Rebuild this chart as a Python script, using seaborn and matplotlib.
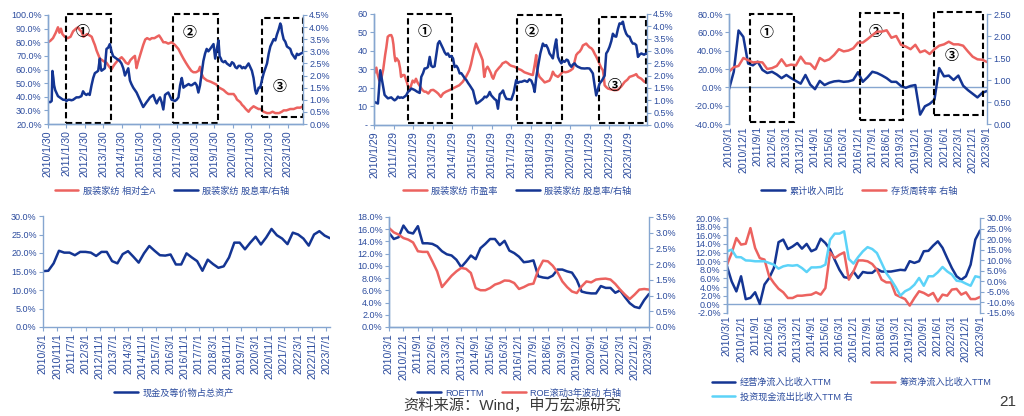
import matplotlib
matplotlib.use("Agg")
import matplotlib.pyplot as plt
import seaborn as sns
import pandas as pd
from matplotlib.patches import Rectangle

# ------------------------------------------------------------------ data
# Panel 1: 服装家纺 相对全A (left, %) and 股息率 (right, %), x = decimal year
p1_rel_pts = [
    (2010.08, 80), (2010.2, 81), (2010.35, 83), (2010.5, 87), (2010.62, 91), (2010.7, 87), (2010.78, 90),
    (2010.86, 86), (2010.99, 84), (2011.15, 83), (2011.3, 84), (2011.44, 88), (2011.6, 90), (2011.71, 91),
    (2011.8, 89), (2011.89, 88), (2012.0, 84), (2012.1, 85), (2012.2, 86), (2012.34, 85), (2012.45, 84),
    (2012.53, 81), (2012.62, 78), (2012.71, 74), (2012.8, 71), (2012.89, 68), (2013.0, 67), (2013.1, 66),
    (2013.25, 65), (2013.4, 62), (2013.52, 60), (2013.6, 62), (2013.7, 64), (2013.88, 67), (2014.07, 69),
    (2014.2, 67), (2014.3, 65), (2014.43, 64), (2014.55, 67), (2014.7, 69), (2014.79, 70), (2014.88, 61),
    (2014.95, 65), (2015.06, 70), (2015.15, 74), (2015.24, 78), (2015.35, 82), (2015.45, 83), (2015.6, 82),
    (2015.7, 83), (2015.85, 83), (2015.97, 84), (2016.1, 85), (2016.2, 83), (2016.33, 80), (2016.45, 80),
    (2016.6, 79), (2016.78, 80), (2016.96, 78), (2017.15, 75), (2017.3, 71), (2017.42, 68), (2017.55, 65),
    (2017.69, 62), (2017.85, 59), (2017.96, 58), (2018.1, 58), (2018.23, 59), (2018.32, 62), (2018.4, 57),
    (2018.5, 54), (2018.69, 52), (2018.9, 51), (2019.05, 50), (2019.2, 49), (2019.32, 47), (2019.45, 46),
    (2019.59, 45), (2019.75, 43), (2019.86, 42), (2020.0, 42), (2020.14, 42), (2020.25, 40), (2020.32, 38),
    (2020.5, 36), (2020.6, 34), (2020.68, 33), (2020.8, 31), (2020.95, 29), (2021.05, 31), (2021.22, 33),
    (2021.35, 32), (2021.49, 31), (2021.6, 31), (2021.76, 29), (2021.95, 28), (2022.1, 28), (2022.25, 29),
    (2022.4, 28), (2022.6, 28), (2022.75, 29), (2022.85, 30), (2023.0, 30), (2023.21, 31), (2023.4, 31),
    (2023.58, 32), (2023.75, 32), (2023.9, 33),
]
p1_yield_pts = [
    (2010.08, 0.92), (2010.2, 0.9), (2010.28, 0.95), (2010.32, 2.19), (2010.37, 1.9), (2010.41, 1.6),
    (2010.47, 1.4), (2010.53, 1.3), (2010.62, 1.15), (2010.71, 1.1), (2010.8, 1.05), (2010.9, 1.0),
    (2011.0, 1.0), (2011.08, 0.95), (2011.17, 1.0), (2011.26, 1.0), (2011.35, 0.98), (2011.44, 1.0),
    (2011.53, 1.05), (2011.62, 1.1), (2011.75, 1.1), (2011.89, 1.15), (2011.98, 1.35), (2012.07, 1.25),
    (2012.16, 1.2), (2012.25, 1.25), (2012.34, 1.2), (2012.44, 1.6), (2012.53, 1.9), (2012.62, 2.1),
    (2012.72, 2.15), (2012.8, 2.2), (2012.89, 2.7), (2012.94, 2.3), (2012.98, 2.2), (2013.07, 2.25),
    (2013.16, 2.3), (2013.25, 3.1), (2013.34, 3.15), (2013.43, 3.3), (2013.52, 3.0), (2013.61, 2.8),
    (2013.7, 2.75), (2013.79, 2.7), (2013.88, 2.65), (2013.97, 2.6), (2014.06, 2.5), (2014.16, 2.3),
    (2014.25, 2.0), (2014.34, 2.15), (2014.43, 2.3), (2014.52, 1.8), (2014.6, 1.65), (2014.7, 1.5),
    (2014.79, 1.4), (2014.88, 1.3), (2014.97, 1.15), (2015.06, 1.0), (2015.15, 0.85), (2015.24, 0.7),
    (2015.33, 0.8), (2015.42, 0.9), (2015.52, 1.0), (2015.61, 1.1), (2015.7, 1.15), (2015.79, 1.2),
    (2015.88, 1.0), (2015.97, 0.85), (2016.06, 1.0), (2016.15, 1.1), (2016.24, 0.9), (2016.33, 0.6),
    (2016.38, 0.9), (2016.42, 1.2), (2016.5, 1.25), (2016.6, 1.3), (2016.69, 1.15), (2016.78, 1.0),
    (2016.87, 0.98), (2016.96, 0.95), (2017.05, 1.0), (2017.15, 1.1), (2017.24, 1.6), (2017.33, 1.9),
    (2017.38, 1.7), (2017.42, 1.5), (2017.5, 1.55), (2017.6, 1.6), (2017.7, 1.65), (2017.8, 1.6),
    (2017.87, 1.6), (2017.96, 1.65), (2018.05, 1.7), (2018.14, 1.6), (2018.23, 1.3), (2018.32, 1.6),
    (2018.41, 2.1), (2018.5, 2.6), (2018.59, 2.9), (2018.68, 3.1), (2018.77, 3.0), (2018.87, 3.1),
    (2018.96, 3.2), (2019.05, 3.3), (2019.14, 2.7), (2019.23, 3.1), (2019.32, 3.45), (2019.38, 2.8),
    (2019.45, 2.7), (2019.5, 2.6), (2019.6, 2.55), (2019.68, 2.6), (2019.77, 2.5), (2019.86, 2.45),
    (2019.95, 2.4), (2020.05, 2.55), (2020.14, 2.5), (2020.23, 2.35), (2020.32, 2.3), (2020.41, 2.4),
    (2020.5, 2.4), (2020.6, 2.3), (2020.68, 2.35), (2020.77, 2.3), (2020.86, 2.4), (2020.95, 2.5),
    (2021.04, 2.35), (2021.13, 2.2), (2021.22, 1.9), (2021.31, 1.4), (2021.37, 1.25), (2021.43, 1.35),
    (2021.5, 1.5), (2021.58, 1.5), (2021.67, 1.8), (2021.77, 2.1), (2021.86, 2.3), (2021.95, 2.5),
    (2022.04, 2.9), (2022.13, 3.2), (2022.22, 3.35), (2022.31, 3.5), (2022.4, 3.45), (2022.49, 3.7),
    (2022.58, 3.9), (2022.67, 4.15), (2022.72, 4.05), (2022.76, 3.8), (2022.85, 3.5), (2022.94, 3.4),
    (2023.03, 3.2), (2023.12, 3.15), (2023.21, 3.1), (2023.3, 2.9), (2023.39, 2.8), (2023.48, 2.7),
    (2023.57, 2.9), (2023.66, 2.85), (2023.76, 2.9), (2023.9, 2.95),
]
p1_ticks = [f"{y}/1/30" for y in range(2010, 2024)]
p1_boxes = [(2011.04, 2013.49, 21.0, 101.0), (2016.84, 2019.32, 21.0, 100.8), (2021.67, 2023.9, 25.4, 97.5)]
p1_marks = [("①", 2011.98, 87.7), ("②", 2017.74, 87.0), ("③", 2022.63, 47.4)]

# Panel 2: 市盈率 (left) and 股息率 (right)
p2_pe_pts = [
    (2010.1, 28), (2010.2, 31), (2010.25, 28), (2010.35, 24), (2010.45, 25), (2010.55, 30), (2010.65, 38),
    (2010.71, 42), (2010.78, 47.7), (2010.87, 48.5), (2010.96, 48.6), (2011.02, 47), (2011.07, 43.6),
    (2011.12, 38), (2011.17, 34.5), (2011.24, 36), (2011.3, 35), (2011.34, 34.5), (2011.41, 30.6),
    (2011.46, 26), (2011.55, 27), (2011.63, 27), (2011.75, 23.3), (2011.88, 18.8), (2011.96, 21),
    (2012.05, 24), (2012.14, 23), (2012.22, 25), (2012.3, 23), (2012.39, 21.5), (2012.48, 20),
    (2012.56, 18.8), (2012.65, 18), (2012.73, 18), (2012.85, 17), (2012.98, 18.8), (2013.1, 19),
    (2013.24, 18), (2013.35, 17), (2013.49, 15.2), (2013.6, 17), (2013.75, 18), (2013.92, 18.8),
    (2014.09, 19.7), (2014.26, 20.6), (2014.43, 21.5), (2014.6, 23.3), (2014.77, 26), (2014.94, 29.6),
    (2015.03, 33), (2015.11, 36.9), (2015.2, 41), (2015.28, 44), (2015.36, 42), (2015.45, 39.6),
    (2015.55, 37), (2015.62, 35), (2015.7, 26), (2015.78, 30), (2015.87, 31.5), (2015.95, 30),
    (2016.04, 28), (2016.1, 26), (2016.16, 25), (2016.29, 28.8), (2016.38, 30), (2016.46, 31),
    (2016.55, 32), (2016.63, 33.3), (2016.8, 34.2), (2016.9, 33.5), (2017.0, 32.5), (2017.08, 32),
    (2017.25, 31.5), (2017.4, 30.5), (2017.59, 29.7), (2017.75, 28.5), (2017.93, 27.8), (2018.1, 27.2),
    (2018.18, 27), (2018.28, 33), (2018.35, 37.8), (2018.4, 30), (2018.44, 28), (2018.52, 26),
    (2018.61, 25), (2018.7, 24), (2018.78, 23), (2018.9, 23.5), (2019.03, 24), (2019.12, 26),
    (2019.2, 28.8), (2019.3, 27), (2019.46, 26), (2019.6, 27.5), (2019.71, 28.8), (2019.85, 28.5),
    (2019.97, 28.8), (2020.1, 29.5), (2020.22, 30.5), (2020.3, 34), (2020.39, 37.8), (2020.48, 39),
    (2020.56, 39.6), (2020.65, 41), (2020.73, 43), (2020.82, 43.5), (2020.9, 44), (2020.98, 43),
    (2021.07, 42), (2021.16, 41.5), (2021.24, 40.5), (2021.33, 38.5), (2021.41, 37), (2021.5, 35),
    (2021.58, 33), (2021.66, 31), (2021.75, 29.6), (2021.8, 26), (2021.84, 21.5), (2021.92, 20.5),
    (2022.01, 19.7), (2022.18, 19.2), (2022.35, 18.8), (2022.52, 19), (2022.7, 21), (2022.86, 23.3),
    (2023.0, 24.5), (2023.11, 26), (2023.25, 26.5), (2023.37, 27), (2023.45, 27.5), (2023.54, 26),
    (2023.62, 25.5), (2023.71, 25), (2023.85, 23.5), (2023.96, 23),
]
p2_yield_pts = [
    (2010.11, 0.93), (2010.2, 0.9), (2010.28, 0.87), (2010.34, 1.5), (2010.4, 2.22), (2010.47, 1.9),
    (2010.54, 1.57), (2010.62, 1.22), (2010.7, 1.15), (2010.79, 1.08), (2010.88, 1.1), (2010.96, 1.12),
    (2011.05, 1.05), (2011.13, 1.0), (2011.22, 1.05), (2011.3, 1.15), (2011.38, 1.1), (2011.47, 1.12),
    (2011.55, 1.1), (2011.64, 1.15), (2011.72, 1.2), (2011.81, 1.34), (2011.9, 1.4), (2011.98, 1.48),
    (2012.07, 1.45), (2012.15, 1.42), (2012.28, 1.35), (2012.41, 1.3), (2012.49, 1.95), (2012.58, 2.1),
    (2012.66, 2.29), (2012.75, 2.3), (2012.83, 2.35), (2012.92, 2.76), (2013.0, 2.4), (2013.08, 2.35),
    (2013.17, 2.38), (2013.25, 2.8), (2013.34, 3.3), (2013.42, 3.4), (2013.51, 3.25), (2013.6, 3.1),
    (2013.68, 2.95), (2013.77, 2.85), (2013.85, 2.9), (2013.94, 2.76), (2014.02, 2.8), (2014.11, 2.7),
    (2014.19, 2.35), (2014.28, 2.4), (2014.36, 2.3), (2014.45, 2.09), (2014.53, 2.1), (2014.62, 2.0),
    (2014.7, 1.9), (2014.79, 1.82), (2014.88, 1.7), (2014.96, 1.61), (2015.05, 1.5), (2015.13, 1.4),
    (2015.22, 1.1), (2015.3, 0.87), (2015.38, 0.9), (2015.47, 0.95), (2015.55, 1.0), (2015.64, 1.06),
    (2015.72, 1.15), (2015.81, 1.12), (2015.9, 1.2), (2015.98, 1.34), (2016.06, 1.2), (2016.15, 1.12),
    (2016.23, 1.05), (2016.32, 1.0), (2016.4, 0.66), (2016.45, 1.0), (2016.49, 1.25), (2016.57, 1.3),
    (2016.66, 1.4), (2016.74, 1.2), (2016.83, 1.06), (2016.92, 1.05), (2017.0, 1.04), (2017.08, 1.03),
    (2017.2, 1.3), (2017.33, 1.82), (2017.42, 1.7), (2017.5, 1.75), (2017.6, 1.75), (2017.76, 1.8),
    (2017.9, 1.75), (2018.0, 1.85), (2018.1, 1.8), (2018.2, 1.6), (2018.27, 1.34), (2018.35, 1.9),
    (2018.44, 2.36), (2018.56, 2.9), (2018.69, 3.3), (2018.78, 3.2), (2018.86, 3.24), (2018.95, 3.1),
    (2019.03, 2.9), (2019.12, 2.8), (2019.2, 2.7), (2019.3, 3.2), (2019.37, 3.47), (2019.46, 2.76),
    (2019.55, 2.6), (2019.63, 2.5), (2019.72, 2.6), (2019.8, 2.56), (2019.9, 2.65), (2019.97, 2.62),
    (2020.05, 2.45), (2020.14, 2.36), (2020.22, 2.45), (2020.31, 2.5), (2020.4, 2.4), (2020.48, 2.36),
    (2020.65, 2.3), (2020.82, 2.29), (2020.95, 2.3), (2021.07, 2.29), (2021.15, 2.2), (2021.24, 2.09),
    (2021.33, 1.6), (2021.41, 1.2), (2021.5, 1.45), (2021.58, 1.68), (2021.7, 1.8), (2021.84, 2.0),
    (2021.92, 2.9), (2022.0, 3.0), (2022.09, 3.17), (2022.18, 3.4), (2022.26, 3.7), (2022.35, 3.6),
    (2022.43, 3.58), (2022.52, 3.9), (2022.6, 4.12), (2022.68, 4.1), (2022.77, 4.19), (2022.85, 3.9),
    (2022.94, 3.7), (2023.03, 3.6), (2023.11, 3.58), (2023.2, 3.4), (2023.28, 3.3), (2023.36, 3.3),
    (2023.45, 3.24), (2023.5, 3.0), (2023.54, 2.76), (2023.62, 2.85), (2023.71, 2.9), (2023.85, 2.85),
    (2023.96, 2.9),
]
p2_ticks = [f"{y}/1/29" for y in range(2010, 2024)]
p2_boxes = [(2011.81, 2014.07, 1.1, 60.0), (2017.39, 2019.66, 1.1, 59.4), (2021.55, 2023.96, 1.1, 58.2)]
p2_marks = [("①", 2012.66, 50.0), ("②", 2018.1, 50.0), ("③", 2022.35, 21.0)]

# Quarterly category axis 2010Q1 .. 2023Q3 (55 quarters)
quarters = pd.date_range("2010-03-01", "2023-09-01", freq="3MS")
q_ticks = ["2010/3/1", "2010/12/1", "2011/9/1", "2012/6/1", "2013/3/1", "2013/12/1", "2014/9/1",
           "2015/6/1", "2016/3/1", "2016/12/1", "2017/9/1", "2018/6/1", "2019/3/1", "2019/12/1",
           "2020/9/1", "2021/6/1", "2022/3/1", "2022/12/1", "2023/9/1"]

# Panel 3: 累计收入同比 (left, %) and 存货周转率 (right)
p3_rev = [-2, 17, 62, 55, 26, 24, 28, 19, 15.6, 17, 14, 10, 13.5, 10, 7, 4, 13.5, 3, -2, 7,
          2.5, 5, 6.5, 7, 6, 6.5, 8, 16.5, 6, 11, 17, 15.6, 13, 10, 6, 6, 1.5, -0.5, 1.5, 2.5,
          -29.8, -20.7, -18, -13.5, 21, 12, 12.8, 8, 12.8, 1.8, -3, -7, -11, -6, -4]
p3_turn = [1.19, 1.29, 1.32, 1.50, 1.45, 1.40, 1.41, 1.40, 1.25, 1.27, 1.32, 1.47, 1.32, 1.35,
           1.33, 1.53, 1.38, 1.37, 1.25, 1.50, 1.43, 1.47, 1.57, 1.70, 1.65, 1.67, 1.72, 1.85,
           1.85, 1.93, 2.02, 2.10, 2.10, 2.13, 1.96, 2.00, 1.80, 1.76, 1.70, 1.80, 1.63, 1.67,
           1.59, 1.70, 1.78, 1.81, 1.87, 1.81, 1.81, 1.78, 1.65, 1.53, 1.47, 1.46, 1.41]
p3_boxes = [(4.3, 13.6, -38.1, 80.0), (27.4, 36.5, -35.9, 80.7), (43.0, 53.1, -30.4, 82.5)]
p3_marks = [("①", 7.8, 59.7), ("②", 30.6, 60.9), ("③", 46.5, 34.3)]

# Panel 4: 现金及等价物占总资产 (%), quarterly on a date axis
p4_cash = [15.1, 15.2, 17.2, 20.6, 20.1, 20.1, 19.4, 20.3, 20.3, 20.1, 19.2, 20.3, 20.3, 17.8,
           17.2, 19.7, 20.5, 19.0, 17.4, 19.9, 21.9, 20.6, 19.4, 19.3, 19.6, 16.9, 16.9, 19.9,
           18.8, 17.8, 15.2, 18.2, 17.0, 16.0, 16.4, 18.8, 22.8, 22.8, 21.0, 22.8, 24.4, 22.3,
           24.2, 26.5, 24.8, 23.9, 22.4, 25.5, 25.0, 23.9, 22.0, 25.0, 25.9, 24.7, 24.0]
p4_ticks = ["2010/3/1", "2010/11/1", "2011/7/1", "2012/3/1", "2012/11/1", "2013/7/1", "2014/3/1",
            "2014/11/1", "2015/7/1", "2016/3/1", "2016/11/1", "2017/7/1", "2018/3/1", "2018/11/1",
            "2019/7/1", "2020/3/1", "2020/11/1", "2021/7/1", "2022/3/1", "2022/11/1", "2023/7/1"]

# Panel 5: ROETTM (left, %) and ROE滚动3年波动 (right, %)
p5_roe = [15.4, 14.4, 14.7, 16.6, 15.5, 15.3, 16.5, 13.7, 13.7, 13.6, 13.2, 12.4, 11.9, 11.7,
          11.0, 9.8, 10.7, 11.7, 11.1, 12.9, 13.6, 14.4, 14.4, 13.4, 14.1, 12.5, 12.1, 11.5,
          10.6, 10.7, 10.9, 8.3, 8.1, 8.0, 8.4, 9.4, 9.4, 9.1, 8.9, 7.7, 5.8, 5.6, 5.5, 5.5,
          6.7, 6.4, 6.4, 5.6, 6.0, 4.9, 3.9, 3.3, 3.1, 4.4, 5.4]
p5_vol = [3.15, 3.01, 2.94, 2.83, 2.78, 2.69, 2.41, 2.39, 2.39, 2.09, 1.77, 1.27, 1.45, 1.63,
          1.77, 1.88, 1.85, 1.72, 1.24, 1.17, 1.17, 1.24, 1.35, 1.40, 1.48, 1.47, 1.40, 1.21,
          1.27, 1.35, 1.38, 1.82, 2.11, 2.09, 1.95, 1.74, 1.45, 1.27, 1.13, 1.08, 1.29, 1.45,
          1.42, 1.51, 1.53, 1.54, 1.51, 1.37, 1.19, 1.03, 0.89, 1.03, 1.19, 1.21, 1.19]

# Panel 6: cash-flow ratios (%)
p6_op = [8.8, 5.3, 3.0, 6.5, 1.2, 1.5, 2.8, 0.1, 4.6, 6.1, 8.4, 14.4, 15.0, 12.8, 13.4, 14.2,
         12.9, 14.0, 12.3, 12.8, 15.2, 14.2, 12.7, 10.3, 8.0, 6.3, 6.1, 7.6, 6.1, 7.5, 7.3, 7.3,
         8.2, 7.6, 7.6, 7.6, 7.8, 8.0, 7.9, 10.0, 9.6, 10.0, 12.3, 12.4, 13.6, 14.6, 13.1, 10.7,
         8.4, 6.5, 5.7, 6.5, 9.2, 15.0, 17.1]
p6_fin = [7.9, 13.4, 20.5, 17.4, 17.8, 25.2, 15.8, 11.0, 10.3, 2.4, -0.8, -3.5, -5.2, -7.9,
          -7.9, -6.8, -6.8, -6.5, -6.3, -5.2, -6.3, -3.2, 13.7, 11.0, 12.6, 13.7, 0.8, 4.7, 9.9,
          9.9, 9.5, 8.2, 5.5, 0.8, -0.5, -0.5, -6.3, -7.4, -8.4, -11.5, -7.9, -4.7, -5.5, -6.8,
          -5.5, -9.5, -6.3, -6.8, -3.9, -3.6, -6.3, -5.2, -8.4, -8.4, -7.4]
p6_inv = [14.2, 15.0, 11.5, 11.4, 9.9, 9.8, 9.5, 9.5, 9.5, 8.7, 7.9, 6.0, 7.1, 7.6, 7.4, 7.7,
          6.3, 4.4, 6.6, 6.6, 6.8, 7.9, 19.7, 22.6, 22.6, 23.7, 10.6, 8.4, 11.5, 14.2, 16.2, 15.3,
          13.4, 8.7, 3.9, 0.8, -2.7, -6.8, -4.7, -3.6, -1.6, 1.6, -2.1, 2.4, 2.4, 4.3, 6.8, 4.7,
          3.2, 0.3, 0.0, -1.1, -2.1, 2.4, 1.9]

# ------------------------------------------------------------------ style
NAVY = "#143593"
RED = "#EC625F"
LIGHT = "#5CD3F8"
TICK = "#2C4C9E"
SPINE = "#86A6D0"
LW = 1.8

sns.set_theme(style="white")
plt.rcParams["font.family"] = ["Liberation Sans", "Noto Sans CJK SC", "DejaVu Sans"]
plt.rcParams["axes.unicode_minus"] = False

W, H = 1024, 416
fig = plt.figure(figsize=(W / 100, H / 100), dpi=100)


def add_ax(l, t, r, b):
    return fig.add_axes([l / W, 1 - b / H, (r - l) / W, (b - t) / H])


def style(ax, sides):
    for s in ["top", "right", "left", "bottom"]:
        ax.spines[s].set_visible(s in sides)
        ax.spines[s].set_color(SPINE)
        ax.spines[s].set_linewidth(1.0)
    ax.tick_params(axis="both", colors=TICK, labelsize=6.5, length=3, width=0.8, pad=1.5)
    ax.tick_params(axis="both", color=SPINE)
    ax.set_xlabel("")
    ax.set_ylabel("")


def line(ax, x, y, color):
    df = pd.DataFrame({"x": x, "y": y})
    sns.lineplot(data=df, x="x", y="y", ax=ax, color=color, linewidth=LW, sort=False,
                 estimator=None, legend=False)
    return ax.lines[-1]


def pct_fmt(vals, dec=1):
    return [f"{v:.{dec}f}%" for v in vals]


def boxes(ax, bxs, marks):
    for x0, x1, y0, y1 in bxs:
        ax.add_patch(Rectangle((x0, y0), x1 - x0, y1 - y0, fill=False, ec="black", lw=1.5,
                               ls=(0, (3, 1.6)), clip_on=False, zorder=5))
    for t, x, y in marks:
        ax.text(x, y, t, ha="center", va="center", fontsize=10, fontweight="bold", color="black",
                family=["Noto Sans CJK SC", "DejaVu Sans"], zorder=6)


def xlabels(ax, pos, labels):
    ax.set_xticks(pos)
    ax.set_xticklabels(labels, rotation=90, fontsize=7.6)


def legend(handles, labels, cx, cy, ncol=2, loc="center"):
    fig.legend(handles, labels, loc=loc, bbox_to_anchor=(cx / W, 1 - cy / H), ncol=ncol,
               frameon=False, fontsize=6.6, handlelength=2.6, handletextpad=0.5,
               columnspacing=2.0, borderpad=0, labelspacing=0.55, labelcolor=TICK)


# ---------------- Panel 1
ax = add_ax(48, 15, 303, 124)
ax2 = ax.twinx()
t, v = zip(*p1_rel_pts)
h1 = line(ax, t, v, RED)
t, v = zip(*p1_yield_pts)
h2 = line(ax2, t, v, NAVY)
ax.set_xlim(2010.08, 2023.9)
ax.set_ylim(20, 100)
ax2.set_ylim(0, 4.5)
ax.set_yticks(range(20, 101, 10))
ax.set_yticklabels(pct_fmt(range(20, 101, 10)))
ax2.set_yticks([i * 0.5 for i in range(10)])
ax2.set_yticklabels(pct_fmt([i * 0.5 for i in range(10)]))
style(ax, ["left", "bottom"])
style(ax2, ["right", "bottom", "left"])
ax.tick_params(left=True, bottom=True)
ax2.tick_params(right=True, labelright=True)
xlabels(ax, [y + 0.08 for y in range(2010, 2024)], p1_ticks)
boxes(ax, p1_boxes, p1_marks)
legend([h1, h2], ["服装家纺 相对全A", "服装家纺 股息率/右轴"], 172, 191)

# ---------------- Panel 2
ax = add_ax(374, 14, 647, 125)
ax2 = ax.twinx()
t, v = zip(*p2_pe_pts)
h1 = line(ax, t, v, RED)
t, v = zip(*p2_yield_pts)
h2 = line(ax2, t, v, NAVY)
ax.set_xlim(2010.08, 2024.0)
ax.set_ylim(0, 60)
ax2.set_ylim(0, 4.5)
ax.set_yticks(range(0, 61, 10))
ax.set_yticklabels(["-"] + [str(i) for i in range(10, 61, 10)])
ax2.set_yticks([i * 0.5 for i in range(10)])
ax2.set_yticklabels(pct_fmt([i * 0.5 for i in range(10)]))
style(ax, ["left", "bottom"])
style(ax2, ["right", "bottom", "left"])
ax.tick_params(left=True, bottom=True)
ax2.tick_params(right=True, labelright=True)
xlabels(ax, [y + 0.08 for y in range(2010, 2024)], p2_ticks)
boxes(ax, p2_boxes, p2_marks)
legend([h1, h2], ["服装家纺 市盈率", "服装家纺 股息率/右轴"], 517, 191)

qx = list(range(len(quarters)))
qtick_pos = list(range(0, 55, 3))

# ---------------- Panel 3
ax = add_ax(729, 14, 987, 124)
ax2 = ax.twinx()
h1 = line(ax, qx, p3_rev, NAVY)
h2 = line(ax2, qx, p3_turn, RED)
ax.set_xlim(0, 54)
ax.set_ylim(-40, 80)
ax2.set_ylim(0, 2.5)
ax.set_yticks(range(-40, 81, 20))
ax.set_yticklabels(pct_fmt(range(-40, 81, 20)))
ax2.set_yticks([i * 0.5 for i in range(6)])
ax2.set_yticklabels([f"{i * 0.5:.2f}" for i in range(6)])
style(ax, ["left"])
style(ax2, ["right", "left"])
ax.axhline(0, color=SPINE, lw=1.0, zorder=1)
ax.tick_params(left=True, bottom=True, length=0, axis="x")
ax.tick_params(left=True, axis="y")
ax2.tick_params(right=True, labelright=True)
xlabels(ax, qtick_pos, q_ticks)
boxes(ax, p3_boxes, p3_marks)
legend([h1, h2], ["累计收入同比", "存货周转率 右轴"], 859, 191)

# ---------------- Panel 4
ax = add_ax(43, 216, 330, 327)
months = [3 * i for i in range(len(p4_cash))]
h1 = line(ax, months, p4_cash, NAVY)
ax.set_xlim(0, 162)
ax.set_ylim(0, 30)
ax.set_yticks(range(0, 31, 5))
ax.set_yticklabels(pct_fmt(range(0, 31, 5)))
style(ax, ["left", "bottom"])
ax.tick_params(left=True, bottom=True)
xlabels(ax, list(range(0, 161, 8)), p4_ticks)
legend([h1], ["现金及等价物占总资产"], 174, 393, ncol=1)

# ---------------- Panel 5
ax = add_ax(389, 217, 649, 327)
ax2 = ax.twinx()
h1 = line(ax, qx, p5_roe, NAVY)
h2 = line(ax2, qx, p5_vol, RED)
ax.set_xlim(0, 54)
ax.set_ylim(0, 18)
ax2.set_ylim(0, 3.5)
ax.set_yticks(range(0, 19, 2))
ax.set_yticklabels(pct_fmt(range(0, 19, 2)))
ax2.set_yticks([i * 0.5 for i in range(8)])
ax2.set_yticklabels(pct_fmt([i * 0.5 for i in range(8)]))
style(ax, ["left", "bottom"])
style(ax2, ["right", "left", "bottom"])
ax.tick_params(left=True, bottom=True)
ax2.tick_params(right=True, labelright=True)
xlabels(ax, qtick_pos, q_ticks)
legend([h1, h2], ["ROETTM", "ROE滚动3年波动 右轴"], 519, 393)

# ---------------- Panel 6
ax = add_ax(727, 218, 980, 313)
ax2 = ax.twinx()
h1 = line(ax, qx, p6_op, NAVY)
h2 = line(ax2, qx, p6_fin, RED)
h3 = line(ax2, qx, p6_inv, LIGHT)
ax.set_xlim(0, 54)
ax.set_ylim(-2, 20)
ax2.set_ylim(-15, 30)
ax.set_yticks(range(-2, 21, 2))
ax.set_yticklabels(pct_fmt(range(-2, 21, 2)))
ax2.set_yticks(range(-15, 31, 5))
ax2.set_yticklabels(pct_fmt(range(-15, 31, 5)))
style(ax, ["left"])
style(ax2, ["right", "left"])
ax.axhline(0, color=SPINE, lw=1.0, zorder=1)
ax.tick_params(axis="x", bottom=True, length=0)
ax.tick_params(axis="y", left=True)
ax2.tick_params(right=True, labelright=True)
xlabels(ax, qtick_pos, q_ticks)
legend([h1, h3, h2], ["经营净流入比收入TTM", "投资现金流出比收入TTM 右", "筹资净流入比收入TTM"],
       707, 373, ncol=2, loc="upper left")

# ---------------- footer
fig.text(512 / W, 1 - 405 / H, "资料来源：Wind，申万宏源研究", ha="center", va="center",
         fontsize=11, color="#3a3a3a")
fig.text(1008 / W, 1 - 402 / H, "21", ha="center", va="center", fontsize=11, color="#3a3a3a")

fig.savefig("out.png", dpi=100)
